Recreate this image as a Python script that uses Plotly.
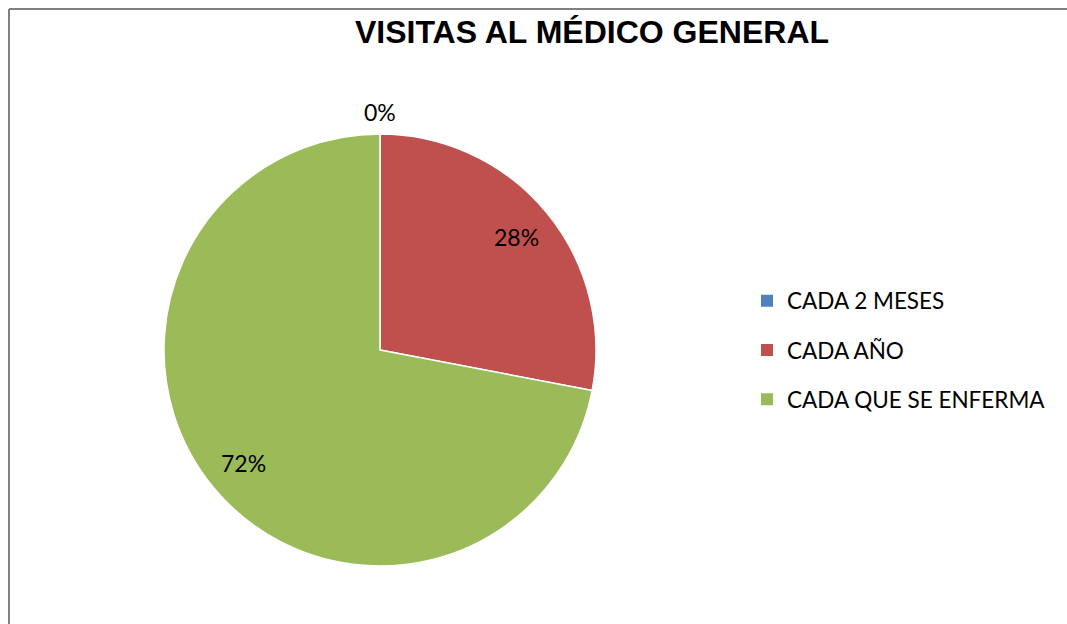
import math
import plotly.graph_objects as go

categories = ["CADA 2 MESES", "CADA AÑO", "CADA QUE SE ENFERMA"]
values = [0, 28, 72]
colors = ["#4F81BD", "#C0504D", "#9BBB59"]
title_text = "VISITAS AL MÉDICO GENERAL"

W, H = 1067, 624
cx, cy, R = 380, 350, 216  # pie centre / radius in px


def px_x(x):
    return x / W


def px_y(y):
    return 1 - y / H


fig = go.Figure()
fig.add_trace(go.Pie(
    labels=categories, values=values, sort=False, direction="clockwise", rotation=0,
    marker=dict(colors=colors, line=dict(color="white", width=1.5)),
    textinfo="none", hoverinfo="label+percent", showlegend=False,
    domain=dict(x=[(cx - R) / W, (cx + R) / W], y=[1 - (cy + R) / H, 1 - (cy - R) / H]),
))

# percent labels at slice mid-angles
total = sum(values)
cum = 0
for v in values:
    frac = v / total
    mid = (cum + frac / 2) * 2 * math.pi
    cum += frac
    r = 1.10 * R if frac < 0.02 else 0.82 * R
    fx = cx + r * math.sin(mid)
    fy = cy - r * math.cos(mid)
    fig.add_annotation(x=fx / W, y=1 - fy / H, xref="paper", yref="paper",
                       xanchor="center", yanchor="middle",
                       text=f"{round(frac * 100)}%", showarrow=False,
                       font=dict(family="Lato, Open Sans, sans-serif", size=23, color="black"))

# legend entries
for name, c in zip(categories, colors):
    fig.add_trace(go.Scatter(x=[None], y=[None], mode="markers", name=name,
                             legendgroup=name, hoverinfo="skip",
                             marker=dict(symbol="square", size=11, color=c)))

fig.update_xaxes(visible=False, fixedrange=True)
fig.update_yaxes(visible=False, fixedrange=True)

border = dict(color="#808080", width=2)
fig.update_layout(
    width=W, height=H,
    margin=dict(l=0, r=0, t=0, b=0),
    paper_bgcolor="white", plot_bgcolor="white",
    title=dict(text=f"<b>{title_text}</b>", x=px_x(592), xanchor="center",
               y=px_y(32), yanchor="middle",
               font=dict(family="Liberation Sans, Arial, sans-serif", size=32, color="black")),
    legend=dict(x=px_x(747), y=px_y(350), xanchor="left", yanchor="middle",
                tracegroupgap=17, itemsizing="constant",
                font=dict(family="Lato, Open Sans, sans-serif", size=22.5, color="black")),
    shapes=[
        dict(type="line", xref="paper", yref="paper",
             x0=px_x(9), x1=1.02, y0=px_y(9), y1=px_y(9), line=border),
        dict(type="line", xref="paper", yref="paper",
             x0=px_x(9), x1=px_x(9), y0=-0.02, y1=px_y(9), line=border),
    ],
)

fig.write_html(
    "out.html",
    config={"displayModeBar": False},
    post_script="document.body.style.margin='0';document.body.style.overflow='hidden';",
)
